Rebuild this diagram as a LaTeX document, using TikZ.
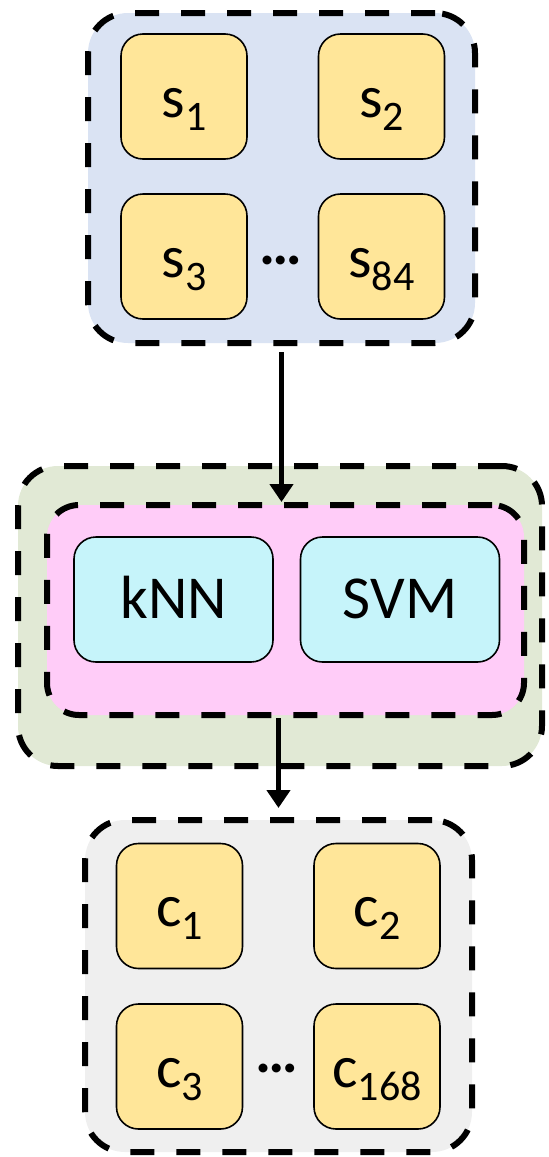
\documentclass[tikz,border=0pt]{standalone}
\usepackage{fontspec}
\setmainfont{Carlito}
\usetikzlibrary{arrows.meta}
\definecolor{bgblue}{HTML}{DAE3F3}
\definecolor{bggreen}{HTML}{E1E9D5}
\definecolor{bgpink}{HTML}{FFCCF8}
\definecolor{bggrey}{HTML}{EFEFEF}
\definecolor{itemyellow}{HTML}{FFE699}
\definecolor{itemcyan}{HTML}{C6F4FA}
\newcommand{\sbx}[1]{\raisebox{-13pt}{\fontsize{42}{42}\selectfont #1}}
\begin{document}
\begin{tikzpicture}[x=1pt,y=-1pt,
  group/.style={draw=black, line width=6pt, dash pattern=on 24pt off 22pt,
    rounded corners=40pt, inner sep=0pt},
  item/.style={draw=black, line width=1.6pt, fill=itemyellow, rounded corners=22pt,
    minimum width=126pt, minimum height=125pt, inner sep=0pt,
    font=\fontsize{60}{62}\selectfont, text height=45pt, text depth=4pt},
  algo/.style={draw=black, line width=1.6pt, fill=itemcyan, rounded corners=22pt,
    minimum width=199pt, minimum height=125pt, inner sep=0pt,
    font=\fontsize{61}{63}\selectfont, text height=38pt, text depth=0pt},
  dotsnode/.style={font=\fontsize{60}{62}\selectfont\bfseries, inner sep=0pt},
  arr/.style={line width=5.5pt, -{Triangle[width=23pt,length=18pt]}}]
\useasboundingbox (0,0) rectangle (549,1157);

% top group
\node[group, fill=bgblue, minimum width=387pt, minimum height=330pt] (topbox) at (281.5,178) {};
\node[item] (s1) at (184,96.5) {s\sbx{1}};
\node[item] (s2) at (381.5,96.5) {s\sbx{2}};
\node[item] (s3) at (184,256.5) {s\sbx{3}};
\node[item] (s84) at (381.5,256.5) {s\sbx{84}};
\node[dotsnode] (dotsS) at (281,260) {…};

% middle group
\node[group, fill=bggreen, minimum width=524pt, minimum height=300pt] (green) at (280,616) {};
\node[group, fill=bgpink, rounded corners=32pt, minimum width=477pt, minimum height=210pt] (pink) at (285.5,610) {};
\node[algo] (knn) at (173.5,599.5) {kNN};
\node[algo] (svm) at (400,599.5) {SVM};

% bottom group
\node[group, fill=bggrey, minimum width=387pt, minimum height=332pt] (bottombox) at (278.5,986) {};
\node[item] (c1) at (179.5,906) {c\sbx{1}};
\node[item] (c2) at (377,906) {c\sbx{2}};
\node[item] (c3) at (179.5,1066.5) {c\sbx{3}};
\node[item] (c168) at (377,1066.5) {c\sbx{168}};
\node[dotsnode] (dotsC) at (277,1068) {…};

% connectors
\draw[arr] ([yshift=-6pt]topbox.south) -- (topbox.south |- pink.north);
\draw[arr, shorten >=9pt] (bottombox.north |- pink.south) -- (bottombox.north);
\end{tikzpicture}
\end{document}
